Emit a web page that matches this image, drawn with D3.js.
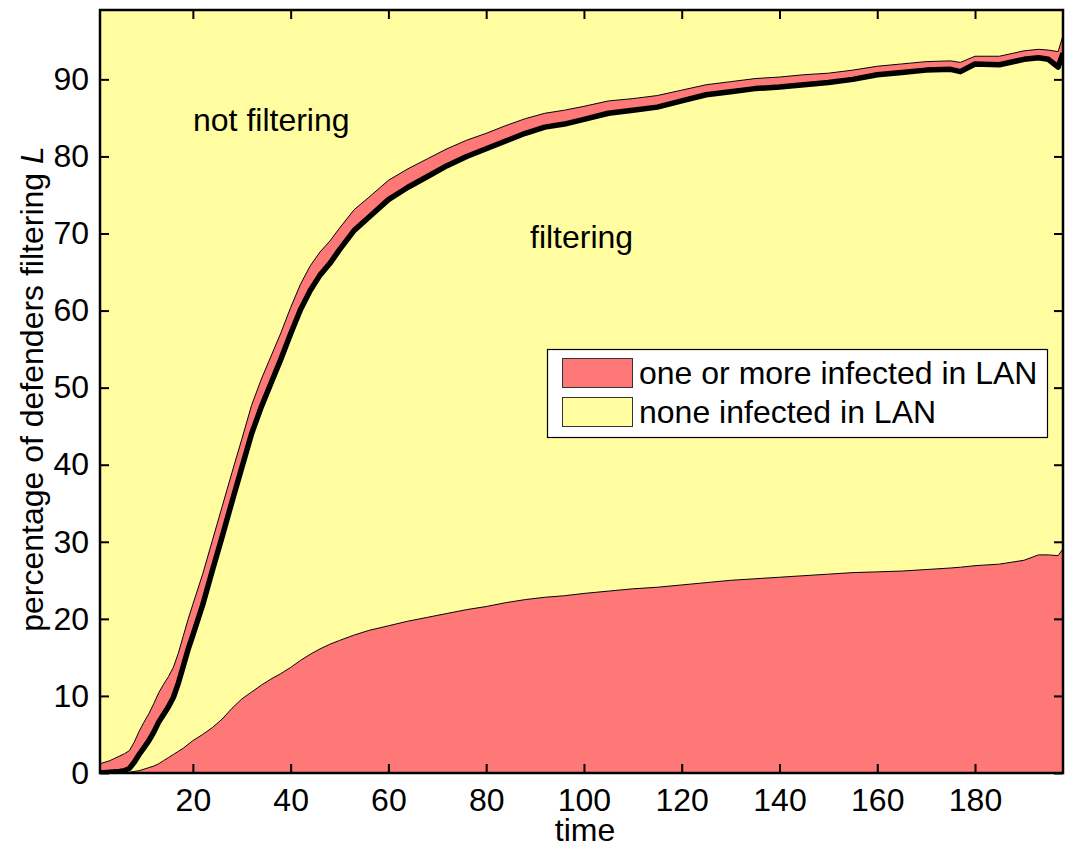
<!DOCTYPE html>
<html>
<head>
<meta charset="utf-8">
<script src="https://cdn.jsdelivr.net/npm/d3@7"></script>
<style>
  body { margin: 0; background: #fff; }
  svg text { font-family: "Liberation Sans", Arial, Helvetica, sans-serif; fill: #000; }
</style>
</head>
<body>
<script>
// values (time steps and percentages)
var time = [1,3,5,6,7,8,9,10,11,12,13,14,15,16,17,18,19,20,22,24,26,28,30,32,34,36,38,40,42,44,46,48,50,53,56,60,64,68,72,76,80,84,88,92,96,100,105,110,115,120,125,130,135,140,145,150,155,160,165,170,175,177,180,185,190,193,195,197,198];

// percentage filtering L (black line)
var filtering = [0,0.1,0.2,0.3,0.6,1.4,2.4,3.3,4.2,5.3,6.6,7.6,8.6,9.8,11.6,13.8,16.0,17.9,21.8,26.3,30.7,35.2,39.6,44.0,47.5,50.6,53.7,57.0,60.1,62.6,64.6,66.1,67.9,70.4,72.1,74.4,76.0,77.4,78.8,80.0,81.0,82.0,83.0,83.8,84.2,84.8,85.6,86.0,86.4,87.2,88.0,88.4,88.8,89.0,89.3,89.6,90.0,90.6,90.9,91.2,91.3,91.0,92.0,91.9,92.6,92.8,92.6,91.6,93.4];

// filtering and one or more infected in LAN (bottom red)
var infectedFiltering = [0,0,0,0,0.1,0.2,0.3,0.5,0.7,0.9,1.2,1.6,2.0,2.4,2.8,3.2,3.7,4.2,5.0,5.9,7.0,8.4,9.6,10.5,11.4,12.2,12.9,13.7,14.6,15.4,16.1,16.7,17.2,17.9,18.5,19.1,19.7,20.2,20.7,21.2,21.6,22.1,22.5,22.8,23.0,23.3,23.6,23.9,24.1,24.4,24.7,25.0,25.2,25.4,25.6,25.8,26.0,26.1,26.2,26.4,26.6,26.7,26.9,27.1,27.6,28.3,28.3,28.2,29.1];

// not filtering but one or more infected in LAN (red band above L)
var infectedNotFiltering = [1.2,1.5,2.0,2.2,2.3,2.6,3.0,3.3,3.5,3.7,3.8,3.9,3.9,3.9,3.9,3.9,3.9,4.0,4.0,3.9,3.9,3.8,3.7,3.7,3.6,3.5,3.4,3.4,3.3,3.2,3.0,2.9,2.8,2.7,2.6,2.5,2.4,2.3,2.2,2.1,2.0,2.0,1.9,1.8,1.8,1.7,1.6,1.5,1.5,1.4,1.3,1.3,1.3,1.3,1.3,1.2,1.2,1.1,1.1,1.1,1.1,1.2,1.0,1.1,1.1,1.1,1.2,2.0,2.3];

var xTicks = [20,40,60,80,100,120,140,160,180];
var yTicks = [0,10,20,30,40,50,60,70,80,90];
var legendLabels = ["one or more infected in LAN", "none infected in LAN"];

var RED = "#ff7878", YELLOW = "#fffda0";
var W = 1065, H = 848;
// note: "top" is reserved on window, so plot edges get their own names
var pLeft = 100, pRight = 1063, pTop = 10, pBottom = 773;
var FS = "32px";

var svg = d3.select("body").append("svg")
	.attr("width", W)
	.attr("height", H);

var x = d3.scaleLinear().domain([1, 198]).range([pLeft, pRight]);
var y = d3.scaleLinear().domain([0, 99]).range([pBottom, pTop]);

// rows for the stacked areas
var rows = time.map(function(t, i) {
	return {
		t: t,
		a: infectedFiltering[i],
		b: filtering[i] - infectedFiltering[i],
		c: infectedNotFiltering[i],
		d: 100 - filtering[i] - infectedNotFiltering[i]
	};
});
var layers = d3.stack().keys(["a", "b", "c", "d"])(rows);
var fills = [RED, YELLOW, RED, YELLOW];

svg.append("clipPath").attr("id", "plotclip")
	.append("rect")
	.attr("x", pLeft).attr("y", pTop)
	.attr("width", pRight - pLeft).attr("height", pBottom - pTop);

var plot = svg.append("g").attr("clip-path", "url(#plotclip)");

var area = d3.area()
	.x(function(d) { return x(d.data.t); })
	.y0(function(d) { return y(d[0]); })
	.y1(function(d) { return y(d[1]); });

plot.selectAll(".layer")
	.data(layers)
	.enter()
	.append("path")
	.attr("class", "layer")
	.attr("d", area)
	.style("fill", function(d, i) { return fills[i]; })
	.style("stroke", "none");

// thin patch edges on top of the red layers
var edge = d3.line()
	.x(function(d) { return x(d.data.t); })
	.y(function(d) { return y(d[1]); });

plot.selectAll(".edge")
	.data([layers[0], layers[2]])
	.enter()
	.append("path")
	.attr("class", "edge")
	.attr("d", edge)
	.style("fill", "none")
	.style("stroke", "#000")
	.style("stroke-width", 1);

// thick black line for L
var lLine = d3.line()
	.x(function(d, i) { return x(time[i]); })
	.y(function(d) { return y(d); });

plot.append("path")
	.attr("d", lLine(filtering))
	.style("fill", "none")
	.style("stroke", "#000")
	.style("stroke-width", 5.5)
	.style("stroke-linejoin", "round");

// axes, ticks pointing inward on all sides
svg.append("g")
	.attr("transform", "translate(0," + pBottom + ")")
	.call(d3.axisBottom(x).tickValues(xTicks).tickSizeInner(-9).tickSizeOuter(0).tickPadding(15));
svg.append("g")
	.attr("transform", "translate(" + pLeft + ",0)")
	.call(d3.axisLeft(y).tickValues(yTicks).tickSizeInner(-9).tickSizeOuter(0).tickPadding(11));
svg.append("g")
	.attr("transform", "translate(0," + pTop + ")")
	.call(d3.axisTop(x).tickValues(xTicks).tickSizeInner(-9).tickSizeOuter(0).tickFormat(""));
svg.append("g")
	.attr("transform", "translate(" + pRight + ",0)")
	.call(d3.axisRight(y).tickValues(yTicks).tickSizeInner(-9).tickSizeOuter(0).tickFormat(""));

svg.selectAll(".domain").remove();
svg.selectAll(".tick line").style("stroke", "#000").style("stroke-width", 2);
svg.selectAll(".tick text")
	.style("font-size", FS)
	.style("font-family", "\"Liberation Sans\", Arial, Helvetica, sans-serif");

svg.append("rect")
	.attr("x", pLeft).attr("y", pTop)
	.attr("width", pRight - pLeft).attr("height", pBottom - pTop)
	.style("fill", "none")
	.style("stroke", "#000")
	.style("stroke-width", 2.5);

// axis labels
svg.append("text")
	.attr("x", 585).attr("y", 841)
	.attr("text-anchor", "middle")
	.style("font-size", FS)
	.text("time");

var ylab = svg.append("text")
	.attr("transform", "translate(43,389) rotate(-90)")
	.attr("text-anchor", "middle")
	.style("font-size", FS);
ylab.append("tspan").text("percentage of defenders filtering ");
ylab.append("tspan").style("font-style", "italic").text("L");

// region annotations
svg.append("text")
	.attr("x", 193).attr("y", 131)
	.style("font-size", FS)
	.text("not filtering");
svg.append("text")
	.attr("x", 530).attr("y", 248)
	.style("font-size", FS)
	.text("filtering");

// legend
var legend = svg.append("g");
legend.append("rect")
	.attr("x", 547.5).attr("y", 349.5)
	.attr("width", 500).attr("height", 88)
	.style("fill", "#fff")
	.style("stroke", "#000")
	.style("stroke-width", 1.2);

var items = legend.selectAll(".item")
	.data(legendLabels)
	.enter()
	.append("g")
	.attr("class", "item")
	.attr("transform", function(d, i) { return "translate(0," + (i * 39) + ")"; });

items.append("rect")
	.attr("x", 562.5).attr("y", 358.5)
	.attr("width", 70).attr("height", 29)
	.style("fill", function(d, i) { return i === 0 ? RED : YELLOW; })
	.style("stroke", "#333")
	.style("stroke-width", 1);

items.append("text")
	.attr("x", 639).attr("y", 384)
	.style("font-size", FS)
	.text(function(d) { return d; });
</script>
</body>
</html>
